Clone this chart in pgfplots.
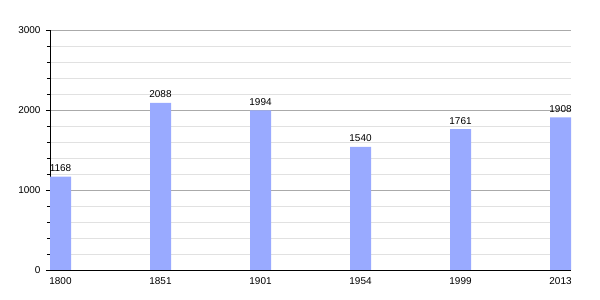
\documentclass[border=0pt]{standalone}
\usepackage{pgfplots}
\pgfplotsset{compat=1.18}
\usepackage{fontspec}
\setmainfont{Liberation Sans}
\definecolor{barblue}{RGB}{153,170,255}
\definecolor{majgrid}{RGB}{170,170,170}
\definecolor{mingrid}{RGB}{225,225,225}
\begin{document}
\begin{tikzpicture}
\useasboundingbox (-50bp,-30bp) rectangle (550bp,270bp);
\begin{axis}[
  at={(0,0)}, anchor=south west,
  scale only axis, width=521bp, height=240bp,
  axis lines*=left,
  xmin=-0.105, xmax=5.105,
  ymin=0, ymax=3000,
  xtick=data,
  xticklabels={1800,1851,1901,1954,1999,2013},
  ytick={0,1000,2000,3000},
  minor y tick num=4,
  ymajorgrids, yminorgrids,
  major grid style={majgrid, line width=0.6pt},
  minor grid style={mingrid, line width=0.6pt},
  tick align=outside,
  major tick length=4bp, minor tick length=3bp,
  x tick style={draw=none},
  y tick style={black, line width=0.5pt},
  axis line style={black, line width=0.7pt},
  tick label style={font=\fontsize{10}{11}\selectfont},
  /pgf/number format/assume math mode=true,
  scaled y ticks=false,
  yticklabel style={/pgf/number format/1000 sep={}, xshift=-2bp},
  ybar, bar width=21bp, bar shift=0pt,
  nodes near coords,
  nodes near coords style={font=\fontsize{10}{11}\selectfont, black, /pgf/number format/1000 sep={}, /pgf/number format/assume math mode=true, yshift=1.5bp},
]
\addplot[fill=barblue, draw=none] coordinates {(0,1168) (1,2088) (2,1994) (3,1540) (4,1761) (5,1908)};
\end{axis}
\end{tikzpicture}
\end{document}
